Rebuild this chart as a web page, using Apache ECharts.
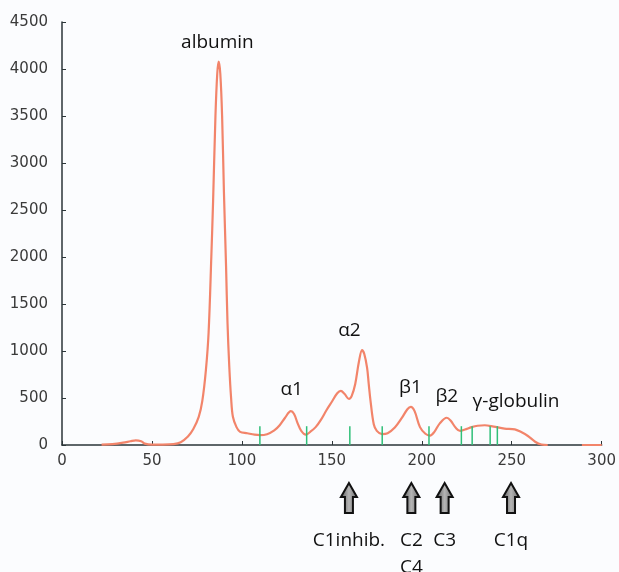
<!DOCTYPE html>
<html>
<head>
<meta charset="utf-8">
<script src="https://cdn.jsdelivr.net/npm/echarts@6/dist/echarts.min.js"></script>
<style>html,body{margin:0;padding:0;background:#fbfcfe;}#chart{width:619px;height:572px;}</style>
</head>
<body>
<div id="chart"></div>
<script>
// Densitometry trace (x = migration position, y = intensity)
const traceX = [22,28,34,38,41,44,46,50,56,62,66,70,73,76,78,80,81.5,83,84,85.3,86.3,87.1,88,89,90,91.2,92,93,94,95,97,99,103,107,110,114,118,121,124,127.2,129,131,133,135.5,138,141,144,147,150,153,155,157,159.5,161,163,165,166.8,168,169.6,170.5,171.5,173.3,175,177.9,181,185,189,192,193.9,196,199,202,204.6,207,210,213.9,216,219,221.3,224,227.7,231,235,240,246,251.7,255,259,263,266.5,270,null,289,300];
const traceY = [5,10,25,40,50,40,15,5,5,10,30,90,170,300,470,800,1200,2000,2600,3500,3950,4080,3950,3500,2700,1900,1300,830,500,300,190,140,125,110,105,115,155,210,290,360,330,230,150,110,140,190,270,370,460,550,575,545,490,520,650,880,1010,970,820,650,470,220,150,115,125,185,290,380,405,360,190,120,100,140,230,290,260,180,150,165,190,205,210,195,175,167,140,96,35,5,0,null,0,0];

// Fraction boundary markers
const markerX = [110,136,160,178,204,222,228,238,242];
const markerHeight = 200;

// Peak labels
const peakNames = ['albumin','α1','α2','β1','β2','γ-globulin'];
const peakX = [86.4,127.7,159.8,193.7,213.9,252.4];
const peakY = [4280,585,1213,606,511,457];

// Complement component arrows
const arrowX = [159.5,194.2,212.7,249.6];
const arrowLabels = ['C1inhib.','C2\nC4','C3','C1q'];

const xTicks = [0,50,100,150,200,250,300];
const yTicks = [0,500,1000,1500,2000,2500,3000,3500,4000,4500];

const lineData = traceX.map((x,i)=> x===null ? [null,null] : [x, traceY[i]]);
const chart = echarts.init(document.getElementById('chart'));
const labelFont = '"Open Sans", sans-serif';

chart.setOption({
  backgroundColor: '#fbfcfe',
  animation: false,
  grid: {left: 62, right: 15, top: 22, bottom: 127},
  xAxis: {
    type: 'value', min: xTicks[0], max: xTicks[xTicks.length-1], interval: 50,
    axisLine: {lineStyle: {color: '#2b3538', width: 1.5}},
    axisTick: {inside: true, length: 4, lineStyle: {color: '#2b3538'}},
    axisLabel: {color: '#3a3a3a', fontSize: 15, fontFamily: 'DejaVu Sans', margin: 9, formatter: v => String(v)},
    splitLine: {show: false}
  },
  yAxis: {
    type: 'value', min: yTicks[0], max: yTicks[yTicks.length-1], interval: 500,
    axisLine: {show: true, lineStyle: {color: '#2b3538', width: 1.5}},
    axisTick: {show: true, inside: true, length: 4, lineStyle: {color: '#2b3538'}},
    axisLabel: {color: '#3a3a3a', fontSize: 15, fontFamily: 'DejaVu Sans', margin: 14, formatter: v => String(v)},
    splitLine: {show: false}
  },
  series: [
    {
      type: 'line', data: lineData, smooth: 0.35, showSymbol: false, connectNulls: false,
      lineStyle: {color: '#f2846a', width: 2.2}, z: 3
    },
    {
      type: 'custom', data: markerX.map(x=>[x, markerHeight]), z: 4,
      renderItem: function(params, api){
        const a = api.coord([api.value(0), 0]);
        const b = api.coord([api.value(0), api.value(1)]);
        return {type: 'line', shape: {x1: a[0], y1: a[1], x2: b[0], y2: b[1]}, style: {stroke: '#2fbf78', lineWidth: 1.5}};
      }
    },
    {
      type: 'custom', clip: false, z: 5,
      data: peakX.map((x,i)=>[x, peakY[i]]),
      renderItem: function(params, api){
        const p = api.coord([api.value(0), api.value(1)]);
        return {type: 'text', style: {text: peakNames[params.dataIndex], x: p[0], y: p[1], align: 'center', verticalAlign: 'middle', fontSize: 19, fontFamily: labelFont, fill: '#111'}};
      }
    },
    {
      type: 'custom', clip: false, z: 5,
      data: arrowX.map((x,i)=>[x, 0]),
      renderItem: function(params, api){
        const p = api.coord([api.value(0), 0]);
        const x = p[0], y0 = p[1];
        const top = y0 + 38, headH = 14, total = 30, hw = 8, sw = 4;
        return {
          type: 'group',
          children: [
            {type: 'polygon', shape: {points: [[x, top],[x+hw, top+headH],[x+sw, top+headH],[x+sw, top+total],[x-sw, top+total],[x-sw, top+headH],[x-hw, top+headH]]},
             style: {fill: new echarts.graphic.LinearGradient(0,0,1,0,[{offset:0,color:'#555'},{offset:0.5,color:'#b5b5b5'},{offset:1,color:'#666'}]), stroke: '#111', lineWidth: 2}},
            {type: 'text', style: {text: arrowLabels[params.dataIndex], x: x, y: y0 + 82, align: 'center', verticalAlign: 'top', fontSize: 19, lineHeight: 27, fontFamily: labelFont, fill: '#111'}}
          ]
        };
      }
    }
  ]
});
</script>
</body>
</html>
